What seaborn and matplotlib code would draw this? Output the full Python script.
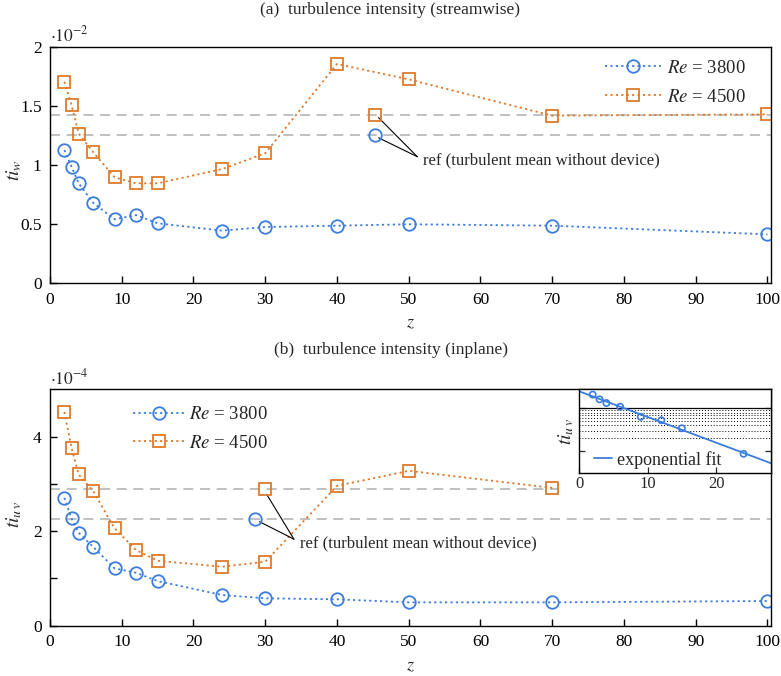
import numpy as np
import matplotlib
matplotlib.use("Agg")
import matplotlib.pyplot as plt
import seaborn as sns

sns.set_theme(style="white")
plt.rcParams['font.family'] = ['Liberation Serif', 'DejaVu Serif']
plt.rcParams['mathtext.fontset'] = 'stix'
plt.rcParams['font.size'] = 12.5

# ---------------- data ----------------
z_a = [2, 3, 4, 6, 9, 12, 15, 24, 30, 40, 50, 70, 100]
tiw_3800 = [1.127, 0.986, 0.845, 0.681, 0.541, 0.577, 0.507, 0.445, 0.476, 0.487, 0.499, 0.487, 0.414]  # x1e-2
tiw_4500 = [1.704, 1.507, 1.265, 1.110, 0.896, 0.845, 0.845, 0.966, 1.099, 1.854, 1.724, 1.417, 1.428]  # x1e-2
ref_a_z = 45.3
ref_a_3800 = 1.25
ref_a_4500 = 1.42

z_b_3800 = [2, 3, 4, 6, 9, 12, 15, 24, 30, 40, 50, 70, 100]
tiuv_3800 = [2.704, 2.269, 1.965, 1.669, 1.213, 1.120, 0.944, 0.649, 0.579, 0.558, 0.494, 0.494, 0.522]  # x1e-4
z_b_4500 = [2, 3, 4, 6, 9, 12, 15, 24, 30, 40, 50, 70]
tiuv_4500 = [4.522, 3.761, 3.199, 2.853, 2.058, 1.599, 1.374, 1.247, 1.353, 2.958, 3.275, 2.916]  # x1e-4
ref_b_z_3800 = 28.6
ref_b_z_4500 = 30.0
ref_b_3800 = 2.25
ref_b_4500 = 2.90

z_inset = [2, 3, 4, 6, 9, 12, 15, 24]
inset_vals = [2.12e-4, 1.64e-4, 1.34e-4, 1.10e-4, 0.634e-4, 0.526e-4, 0.34e-4, 0.085e-4]

labels = [r"$Re$ = 3800", r"$Re$ = 4500"]
xticks = list(range(0, 101, 10))

BLUE = "#3b7ddd"
ORANGE = "#e07a2a"
GREY = "#b5b5b5"

fig = plt.figure(figsize=(7.81, 6.76), dpi=100)
W, H = 781, 676

def add_ax(l, t, r, b):
    return fig.add_axes([l / W, 1 - b / H, (r - l) / W, (b - t) / H])

ax_a = add_ax(50, 46.7, 771, 283.3)
ax_b = add_ax(50, 389.3, 771, 625.7)

line_kw = dict(linestyle=(0, (1.2, 1.8)), linewidth=1.3, markerfacecolor='none',
               markeredgewidth=1.3, estimator=None, sort=False)


def style_axis(ax):
    for s in ax.spines.values():
        s.set_color('black')
        s.set_linewidth(1.0)
    ax.tick_params(axis='both', which='both', direction='in', length=5, width=1.0,
                   colors='black', labelsize=12.5, top=False, right=False,
                   bottom=True, left=True, pad=6)
    ax.set_xlim(0, 100.5)
    ax.set_xticks(xticks)
    ax.set_xticklabels([str(t) for t in xticks])
    ax.set_xlabel(r"$z$", fontsize=13, labelpad=5)


# ---------------- (a) ----------------
ax = ax_a
ax.plot([0, 100.5], [ref_a_4500] * 2, color=GREY, lw=1.2, dashes=(6, 4), zorder=1)
ax.plot([0, 100.5], [ref_a_3800] * 2, color=GREY, lw=1.2, dashes=(6, 4), zorder=1)
sns.lineplot(x=z_a, y=tiw_3800, ax=ax, color=BLUE, marker='o', markersize=9,
             markeredgecolor=BLUE, label=labels[0], **line_kw)
sns.lineplot(x=z_a, y=tiw_4500, ax=ax, color=ORANGE, marker='s', markersize=8,
             markeredgecolor=ORANGE, label=labels[1], **line_kw)
ax.plot([ref_a_z], [ref_a_3800], marker='o', ms=9, mfc='none', mec=BLUE, mew=1.3, ls='none', zorder=4)
ax.plot([ref_a_z], [ref_a_4500], marker='s', ms=8, mfc='none', mec=ORANGE, mew=1.3, ls='none', zorder=4)
anchor_a = (51.2, 1.07)
for yv in (ref_a_3800, ref_a_4500):
    ax.plot([ref_a_z + 0.5, anchor_a[0]], [yv - 0.02, anchor_a[1]], color='black', lw=0.8, zorder=3)
ax.text(52.0, 1.04, "ref (turbulent mean without device)", fontsize=12, va='center', ha='left')
style_axis(ax)
ax.set_ylim(0, 2)
ax.set_yticks([0, 0.5, 1, 1.5, 2])
ax.set_yticklabels(["0", "0.5", "1", "1.5", "2"])
ax.set_ylabel(r"$ti_w$", fontsize=14, va='center')
ax.yaxis.set_label_coords((14 - 50) / 721, 0.48)
ax.text(0.0, 1.005, r"$\cdot 10^{-2}$", transform=ax.transAxes, fontsize=12.5, ha='left', va='bottom')
ax.legend(loc='upper right', frameon=False, handlelength=3.0, handletextpad=0.3,
          labelspacing=0.62, fontsize=13.5, borderaxespad=0.3, bbox_to_anchor=(1.0 - 12 / 721, 1.0))
fig.text(0.5, 1 - 10 / H, "(a)  turbulence intensity (streamwise)", ha='center', va='center', fontsize=12.5)

# ---------------- (b) ----------------
ax = ax_b
ax.plot([0, 70.8], [ref_b_4500] * 2, color=GREY, lw=1.2, dashes=(6, 4), zorder=1)
ax.plot([0, 100.5], [ref_b_3800] * 2, color=GREY, lw=1.2, dashes=(6, 4), zorder=1)
sns.lineplot(x=z_b_3800, y=tiuv_3800, ax=ax, color=BLUE, marker='o', markersize=9,
             markeredgecolor=BLUE, label=labels[0], **line_kw)
sns.lineplot(x=z_b_4500, y=tiuv_4500, ax=ax, color=ORANGE, marker='s', markersize=8,
             markeredgecolor=ORANGE, label=labels[1], **line_kw)
ax.plot([ref_b_z_3800], [ref_b_3800], marker='o', ms=9, mfc='none', mec=BLUE, mew=1.3, ls='none', zorder=4)
ax.plot([ref_b_z_4500], [ref_b_4500], marker='s', ms=8, mfc='none', mec=ORANGE, mew=1.3, ls='none', zorder=4)
anchor_b = (34.0, 1.83)
ax.plot([ref_b_z_3800 + 0.6, anchor_b[0]], [ref_b_3800 - 0.05, anchor_b[1]], color='black', lw=0.8, zorder=3)
ax.plot([ref_b_z_4500 + 0.2, anchor_b[0]], [ref_b_4500 - 0.12, anchor_b[1]], color='black', lw=0.8, zorder=3)
ax.text(34.9, 1.74, "ref (turbulent mean without device)", fontsize=12, va='center', ha='left')
style_axis(ax)
ax.set_ylim(0, 5)
ax.set_yticks([0, 1, 2, 3, 4])
ax.set_yticklabels(["0", "", "2", "", "4"])
ax.set_ylabel(r"$ti_{u\,v}$", fontsize=14, va='center')
ax.yaxis.set_label_coords((14 - 50) / 721, 0.47)
ax.text(0.0, 1.005, r"$\cdot 10^{-4}$", transform=ax.transAxes, fontsize=12.5, ha='left', va='bottom')
ax.legend(loc='upper left', frameon=False, handlelength=2.7, handletextpad=0.3,
          labelspacing=0.6, fontsize=13.5, borderaxespad=0.0, bbox_to_anchor=(0.105, 0.96))
fig.text(0.5, 1 - 350 / H, "(b)  turbulence intensity (inplane)", ha='center', va='center', fontsize=12.5)

# ---------------- inset ----------------
ins = ax_b.inset_axes([(579 - 50) / 721, (625.7 - 473.3) / 236.4, (771 - 579) / 721, (473.3 - 389.3) / 236.4])
ins.set_yscale('log')
ins.set_xlim(0, 28)
ins.set_ylim(2.94e-6, 2.83e-4)
for v in range(2, 10):
    ins.axhline(v * 1e-5, color='black', lw=0.7, ls=(0, (1, 2)), zorder=1)
ins.axhline(1e-4, color='black', lw=0.9, zorder=1)
coef = np.polyfit(z_inset, np.log(inset_vals), 1)
zf = np.linspace(0, 28, 100)
sns.lineplot(x=zf, y=np.exp(np.polyval(coef, zf)), ax=ins, color=BLUE, lw=1.3,
             label="exponential fit", estimator=None, sort=False)
sns.scatterplot(x=z_inset, y=inset_vals, ax=ins, marker='o', s=20, facecolor='none',
                edgecolor=BLUE, linewidth=1.2, zorder=5)
for s in ins.spines.values():
    s.set_color('black')
    s.set_linewidth(1.0)
ins.set_yticks([1e-5, 1e-4])
ins.set_yticklabels([])
ins.yaxis.set_minor_locator(matplotlib.ticker.NullLocator())
ins.set_xticks([0, 10, 20])
ins.set_xticklabels(["0", "10", "20"])
ins.tick_params(axis='both', which='both', direction='in', length=4, width=0.9,
                labelsize=12, left=True, right=True, bottom=True, top=False, pad=2)
ins.set_ylabel(r"$ti_{u\,v}$", fontsize=14, labelpad=0)
ins.set_xlabel("")
ins.legend(loc='lower left', frameon=False, handlelength=1.0, handletextpad=0.3,
           fontsize=13, borderaxespad=0.0, bbox_to_anchor=(0.04, -0.03))
ins.set_facecolor('white')

fig.savefig("out.png", dpi=100)
